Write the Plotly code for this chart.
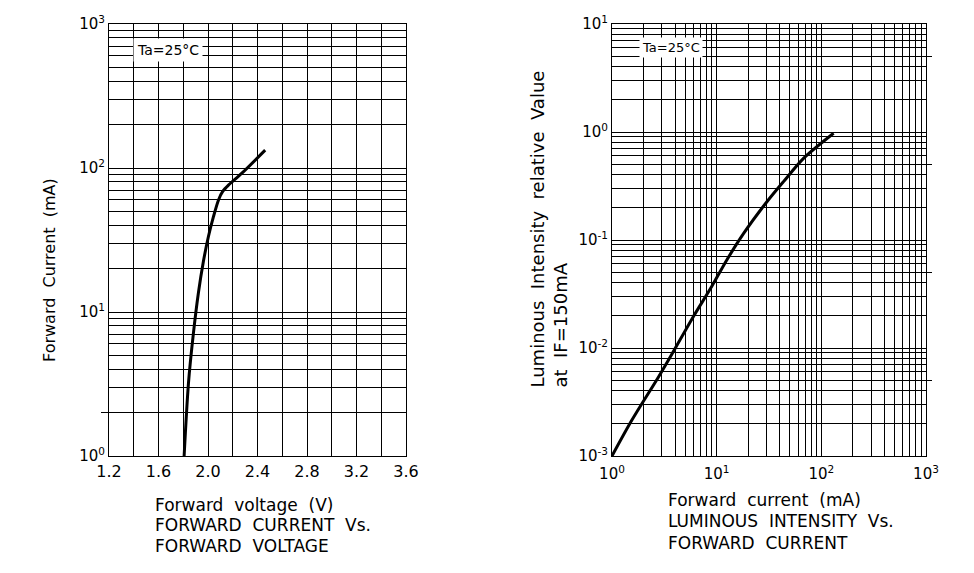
import plotly.graph_objects as go

W, H = 974, 573

# ---- Left chart data: Forward current (mA) vs forward voltage (V) ----
vf_volt = [1.807, 1.842, 1.882, 1.922, 1.963, 2.003, 2.044, 2.085, 2.12, 2.165, 2.274, 2.462]
if_ma = [1.0, 3.2, 7.1, 13.5, 22.5, 33.3, 45.9, 60, 69, 76, 92, 133]

# ---- Right chart data: relative luminous intensity vs forward current (mA) ----
if_curr = [1.0, 1.55, 2.79, 3.74, 5.81, 9.02, 12.5, 18.1, 30.2, 43.5, 67.6, 131]
iv_rel = [0.001, 0.00215, 0.00542, 0.0088, 0.0186, 0.0375, 0.0653, 0.115, 0.226, 0.347, 0.57, 0.973]

left_xticks = [1.2, 1.6, 2.0, 2.4, 2.8, 3.2, 3.6]
left_xlabels = ["1.2", "1.6", "2.0", "2.4", "2.8", "3.2", "3.6"]

# short outside tick stubs seen on the frames
left_stub_vals = [2]
right_stub_vals = [0.005, 0.05, 0.5, 5]


def log_ticks(lo_exp, hi_exp):
    vals, texts = [], []
    for e in range(lo_exp, hi_exp + 1):
        for m in range(1, 10):
            if e == hi_exp and m > 1:
                break
            vals.append(m * 10.0 ** e)
            texts.append(f"10<sup>{e}</sup>" if m == 1 else "")
    return vals, texts


ly_vals, ly_text = log_ticks(0, 3)
rx_vals, rx_text = log_ticks(0, 3)
ry_vals, ry_text = log_ticks(-3, 1)


def px(x):
    return x / W


def py(y):
    return 1 - y / H


FONT = "DejaVu Sans"
fig = go.Figure()

fig.add_trace(go.Scatter(x=vf_volt, y=if_ma, mode="lines",
                         line=dict(color="black", width=3, shape="spline", smoothing=0.8),
                         xaxis="x", yaxis="y", showlegend=False, hoverinfo="skip"))
fig.add_trace(go.Scatter(x=if_curr, y=iv_rel, mode="lines",
                         line=dict(color="black", width=3, shape="spline", smoothing=0.8),
                         xaxis="x2", yaxis="y2", showlegend=False, hoverinfo="skip"))
# empty traces so the stub axes are drawn
fig.add_trace(go.Scatter(x=[], y=[], xaxis="x", yaxis="y3", showlegend=False, hoverinfo="skip"))
fig.add_trace(go.Scatter(x=[], y=[], xaxis="x2", yaxis="y4", showlegend=False, hoverinfo="skip"))

axis_common = dict(showline=True, linecolor="black", linewidth=1, mirror=True, gridcolor="black", gridwidth=1,
                   zeroline=False, ticks="", automargin=False,
                   tickfont=dict(family=FONT, size=15, color="black"))

ydom = [py(456), py(24)]
fig.update_layout(
    width=W, height=H, margin=dict(l=0, r=0, t=0, b=0, autoexpand=False),
    paper_bgcolor="white", plot_bgcolor="white",
    xaxis=dict(domain=[px(109), px(406)], range=[1.2, 3.6], tickmode="array", tickvals=left_xticks,
               ticktext=left_xlabels, anchor="y", ticklabelstandoff=1,
               minor=dict(tick0=1.2, dtick=0.2, showgrid=True, gridcolor="black", gridwidth=1),
               **{**axis_common, "tickfont": dict(family=FONT, size=16, color="black")}),
    yaxis=dict(domain=ydom, type="log", range=[0, 3], tickmode="array", tickvals=ly_vals, ticktext=ly_text,
               anchor="x", **axis_common),
    xaxis2=dict(domain=[px(612), px(926)], type="log", range=[0, 3], tickmode="array", tickvals=rx_vals,
                ticktext=rx_text, anchor="y2", ticklabelstandoff=4, **axis_common),
    yaxis2=dict(domain=ydom, type="log", range=[-3, 1], tickmode="array", tickvals=ry_vals, ticktext=ry_text,
                anchor="x2", **axis_common),
    yaxis3=dict(overlaying="y", anchor="x", side="left", type="log", range=[0, 3], tickmode="array",
                tickvals=left_stub_vals, ticks="outside", ticklen=7, tickcolor="black", tickwidth=1,
                showticklabels=False, showgrid=False, showline=False, zeroline=False, automargin=False),
    yaxis4=dict(overlaying="y2", anchor="x2", side="right", type="log", range=[-3, 1], tickmode="array",
                tickvals=right_stub_vals, ticks="outside", ticklen=5, tickcolor="black", tickwidth=1,
                showticklabels=False, showgrid=False, showline=False, zeroline=False, automargin=False),
)

ann = []
# Ta boxes
ann.append(dict(x=px(168), y=py(50), xref="paper", yref="paper", xanchor="center", yanchor="middle",
                text="Ta=25°C", showarrow=False,
                font=dict(family=FONT, size=14, color="black"), bgcolor="white", borderpad=3))
ann.append(dict(x=px(671), y=py(47), xref="paper", yref="paper", xanchor="center", yanchor="middle",
                text="Ta=25°C", showarrow=False,
                font=dict(family=FONT, size=13, color="black"), bgcolor="white", borderpad=2))
# Y titles
ann.append(dict(x=px(50), y=py(270), xref="paper", yref="paper", xanchor="center", yanchor="middle",
                text="Forward  Current  (mA)", showarrow=False,
                textangle=-90, font=dict(family=FONT, size=16, color="black")))
ann.append(dict(x=px(548), y=py(390), xref="paper", yref="paper", xanchor="center", yanchor="bottom",
                text="Luminous  Intensity  relative  Value<br>at  IF=150mA", align="left", showarrow=False,
                textangle=-90, font=dict(family=FONT, size=18, color="black")))
# Bottom captions
left_lines = [("Forward  voltage  (V)", 505), ("FORWARD  CURRENT  Vs.", 525), ("FORWARD  VOLTAGE", 546)]
right_lines = [("Forward  current  (mA)", 500), ("LUMINOUS  INTENSITY  Vs.", 521), ("FORWARD  CURRENT", 543)]
for t, y in left_lines:
    ann.append(dict(x=px(153), y=py(y), xref="paper", yref="paper", xanchor="left", yanchor="middle", text=t,
                    showarrow=False, font=dict(family=FONT, size=17, color="black")))
for t, y in right_lines:
    ann.append(dict(x=px(666), y=py(y), xref="paper", yref="paper", xanchor="left", yanchor="middle", text=t,
                    showarrow=False, font=dict(family=FONT, size=17, color="black")))
fig.update_layout(annotations=ann)

fig.write_html("out.html")
